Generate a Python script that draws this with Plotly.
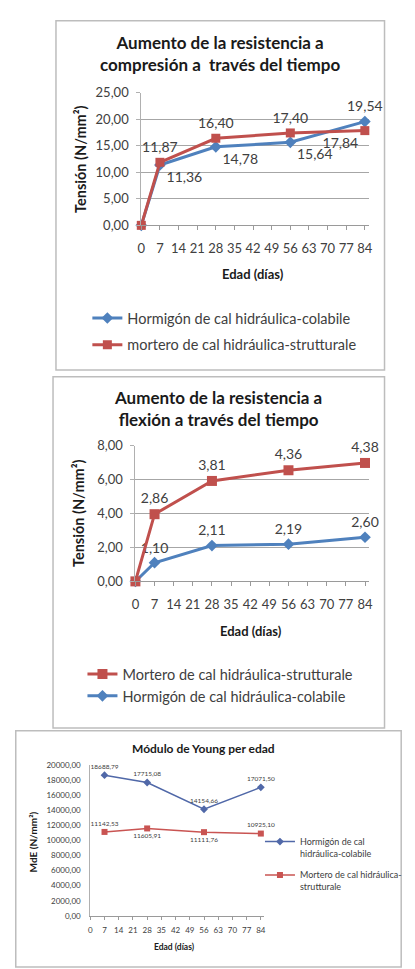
import plotly.graph_objects as go

W, H = 415, 969
FONT = "Lato"

# ---- data ----
DAYS = [0, 7, 28, 56, 84]
COMP_HORMIGON = [0.00, 11.36, 14.78, 15.64, 19.54]
COMP_MORTERO = [0.00, 11.87, 16.40, 17.40, 17.84]

FLEX_HORMIGON = [0.00, 1.10, 2.11, 2.19, 2.60]
FLEX_MORTERO = [0.00, 2.86, 3.81, 4.36, 4.38]

YOUNG_DAYS = [7, 28, 56, 84]
YOUNG_HORMIGON = [18688.79, 17715.08, 14154.66, 17071.50]
YOUNG_MORTERO = [11142.53, 11605.91, 11111.76, 10925.10]

X_TICKS = [0, 7, 14, 21, 28, 35, 42, 49, 56, 63, 70, 77, 84]
X_TICK_LABELS = ["0", "7", "14", "21", "28", "35", "42", "49", "56", "63", "70", "77", "84"]
Y1_TICKS = [0, 5, 10, 15, 20, 25]
Y1_TICK_LABELS = ["0,00", "5,00", "10,00", "15,00", "20,00", "25,00"]
Y2_TICKS = [0, 2, 4, 6, 8]
Y2_TICK_LABELS = ["0,00", "2,00", "4,00", "6,00", "8,00"]
Y3_TICKS = [0, 2000, 4000, 6000, 8000, 10000, 12000, 14000, 16000, 18000, 20000]
Y3_TICK_LABELS = ["0,00", "2000,00", "4000,00", "6000,00", "8000,00", "10000,00",
                  "12000,00", "14000,00", "16000,00", "18000,00", "20000,00"]

BLUE = "#4F81BD"
RED = "#C0504D"
BLUE3 = "#5068A8"
RED3 = "#C95452"
GRID = "#A6A6A6"
TXT = "#404040"


def px(x):
    return x / W


def py(y):
    return 1 - y / H


def fmt(values, days):
    # value labels with a decimal comma; the origin point carries no label
    return ["" if d == 0 else f"{v:.2f}".replace(".", ",") for v, d in zip(values, days)]


fig = go.Figure()

# ---- compression ----
fig.add_trace(go.Scatter(
    x=DAYS, y=COMP_HORMIGON, name="Hormigón de cal hidráulica-colabile",
    mode="lines+markers+text", text=fmt(COMP_HORMIGON, DAYS),
    textposition=["top center", "bottom right", "bottom right", "bottom right", "top center"],
    textfont=dict(size=14, color=TXT, family=FONT),
    line=dict(color=BLUE, width=3), marker=dict(symbol="diamond", size=9, color=BLUE),
    xaxis="x", yaxis="y", legend="legend", legendgroup="c1", legendrank=1, cliponaxis=False))
fig.add_trace(go.Scatter(
    x=DAYS, y=COMP_MORTERO, name="mortero de cal hidráulica-strutturale",
    mode="lines+markers+text", text=fmt(COMP_MORTERO, DAYS),
    textposition=["top center", "top center", "top center", "top center", "bottom left"],
    textfont=dict(size=14, color=TXT, family=FONT),
    line=dict(color=RED, width=3), marker=dict(symbol="square", size=9, color=RED),
    xaxis="x", yaxis="y", legend="legend", legendgroup="c2", legendrank=2, cliponaxis=False))

# ---- flexion (stacked lines) ----
fig.add_trace(go.Scatter(
    x=DAYS, y=FLEX_HORMIGON, name="Hormigón de cal hidráulica-colabile",
    stackgroup="flex", fill="none",
    mode="lines+markers+text", text=fmt(FLEX_HORMIGON, DAYS),
    textposition="top center",
    textfont=dict(size=14, color=TXT, family=FONT),
    line=dict(color=BLUE, width=3), marker=dict(symbol="diamond", size=9, color=BLUE),
    xaxis="x2", yaxis="y2", legend="legend2", legendgroup="f1", legendrank=2, cliponaxis=False))
fig.add_trace(go.Scatter(
    x=DAYS, y=FLEX_MORTERO, name="Mortero de cal hidráulica-strutturale",
    stackgroup="flex", fill="none",
    mode="lines+markers+text", text=fmt(FLEX_MORTERO, DAYS),
    textposition="top center",
    textfont=dict(size=14, color=TXT, family=FONT),
    line=dict(color=RED, width=3), marker=dict(symbol="square", size=10, color=RED),
    xaxis="x2", yaxis="y2", legend="legend2", legendgroup="f2", legendrank=1, cliponaxis=False))

# ---- Young modulus ----
fig.add_trace(go.Scatter(
    x=YOUNG_DAYS, y=YOUNG_HORMIGON, name="Hormigón de cal<br>hidráulica-colabile",
    mode="lines+markers+text", text=fmt(YOUNG_HORMIGON, YOUNG_DAYS),
    textposition="top center",
    textfont=dict(size=6.5, color=TXT, family=FONT),
    line=dict(color=BLUE3, width=1.5), marker=dict(symbol="diamond", size=6, color=BLUE3),
    xaxis="x3", yaxis="y3", legend="legend3", legendgroup="y1", legendrank=1, cliponaxis=False))
fig.add_trace(go.Scatter(
    x=YOUNG_DAYS, y=YOUNG_MORTERO, name="Mortero de cal hidráulica-<br>strutturale",
    mode="lines+markers+text", text=fmt(YOUNG_MORTERO, YOUNG_DAYS),
    textposition=["top center", "bottom center", "bottom center", "top center"],
    textfont=dict(size=6.5, color=TXT, family=FONT),
    line=dict(color=RED3, width=1.5), marker=dict(symbol="square", size=6, color=RED3),
    xaxis="x3", yaxis="y3", legend="legend3", legendgroup="y2", legendrank=2, cliponaxis=False))

# ---- axes ----
xcommon = dict(tickmode="array", tickvals=X_TICKS, ticktext=X_TICK_LABELS,
               showgrid=False, zeroline=False, showline=True, linecolor="#9A9A9A",
               ticks="outside", tickcolor="#9A9A9A", fixedrange=True)
ycommon = dict(tickmode="array", zeroline=False, showline=True, linecolor="#B0B0B0",
               ticks="outside", ticklen=4, tickcolor="#B0B0B0", fixedrange=True)

layout_axes = dict(
    xaxis=dict(xcommon, domain=[px(140), px(372)], range=[0, 85.5], anchor="y",
               ticklen=4, ticklabelstandoff=7,
               tickfont=dict(size=13, color=TXT, family=FONT)),
    yaxis=dict(ycommon, domain=[py(221), py(86)], range=[0, 25], anchor="x",
               tickvals=Y1_TICKS, ticktext=Y1_TICK_LABELS,
               showgrid=True, gridcolor=GRID, gridwidth=1, ticklabelstandoff=5,
               tickfont=dict(size=13, color=TXT, family=FONT)),
    xaxis2=dict(xcommon, domain=[px(134), px(372)], range=[0, 85.4], anchor="y2",
                ticklen=4, ticklabelstandoff=7,
                tickfont=dict(size=13, color=TXT, family=FONT)),
    yaxis2=dict(ycommon, domain=[py(583), py(445)], range=[0, 8], anchor="x2",
                tickvals=Y2_TICKS, ticktext=Y2_TICK_LABELS,
                showgrid=True, gridcolor=GRID, gridwidth=1, ticklabelstandoff=5,
                tickfont=dict(size=13, color=TXT, family=FONT)),
    xaxis3=dict(xcommon, domain=[px(88), px(265)], range=[0, 85.5], anchor="y3",
                ticklen=3, ticklabelstandoff=4,
                tickfont=dict(size=8, color=TXT, family=FONT)),
    yaxis3=dict(ycommon, domain=[py(923), py(770)], range=[0, 20000], anchor="x3",
                tickvals=Y3_TICKS, ticktext=Y3_TICK_LABELS, showgrid=False,
                ticks="", ticklabelstandoff=7,
                tickfont=dict(size=8, color=TXT, family=FONT)),
)

legend_common = dict(xanchor="left", yanchor="top", bgcolor="rgba(0,0,0,0)",
                     itemclick=False, itemdoubleclick=False, traceorder="grouped")

fig.update_layout(
    width=W, height=H, margin=dict(l=0, r=0, t=0, b=0),
    paper_bgcolor="white", plot_bgcolor="white",
    font=dict(family=FONT, color=TXT),
    **layout_axes,
    legend=dict(legend_common, x=px(85), y=py(299), tracegroupgap=5,
                font=dict(size=14.5, color=TXT, family=FONT)),
    legend2=dict(legend_common, x=px(80), y=py(661), tracegroupgap=0,
                 font=dict(size=14.5, color=TXT, family=FONT)),
    legend3=dict(legend_common, x=px(261), y=py(835), tracegroupgap=7,
                 valign="top", itemwidth=30, font=dict(size=9, color=TXT, family=FONT)),
)

# ---- chart frames ----
frames = [(53, 13, 388, 368), (50, 375, 388, 732), (12, 735, 405, 975)]
for x0, y0, x1, y1 in frames:
    fig.add_shape(type="rect", xref="paper", yref="paper",
                  x0=px(x0), x1=px(x1), y0=py(y1), y1=py(y0),
                  line=dict(color="#BDBDBD", width=1.5), fillcolor="rgba(0,0,0,0)", layer="below")


# ---- titles ----
def note(text, x, y, size, bold=True, angle=0, color="#1A1A1A"):
    fig.add_annotation(xref="paper", yref="paper", x=px(x), y=py(y),
                       text=f"<b>{text}</b>" if bold else text,
                       showarrow=False, xanchor="center", yanchor="middle", textangle=angle,
                       font=dict(size=size, color=color, family=FONT))


note("Aumento de la resistencia a<br>compresión a  través del tiempo", 220, 46, 17)
note("Aumento de la resistencia a<br>flexión a través del tiempo", 218, 407, 17)
note("Módulo de Young per edad", 203, 753, 12)

note("Tensión (N/mm²)", 78, 153, 14.5, angle=-90)
note("Tensión (N/mm²)", 76, 514, 14.5, angle=-90)
note("MdE (N/mm²)", 30, 848, 10, angle=-90)

note("Edad (días)", 254, 270, 13)
note("Edad (días)", 252, 633, 13)
note("Edad (días)", 174, 955, 8.5)

fig.write_html("out.html")
